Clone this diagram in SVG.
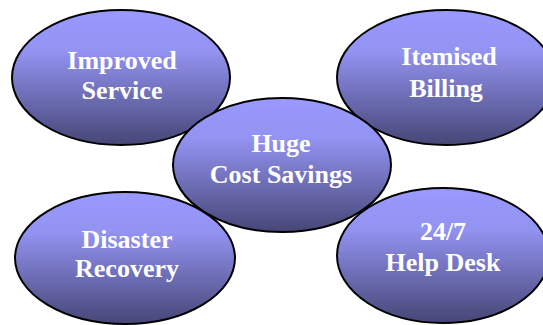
<svg xmlns="http://www.w3.org/2000/svg" width="543" height="325" viewBox="0 0 543 325">
<defs>
<linearGradient id="g" x1="0" y1="0" x2="0" y2="1">
<stop offset="0" stop-color="#9999ff"/>
<stop offset="0.3" stop-color="#9393f2"/>
<stop offset="1" stop-color="#464676"/>
</linearGradient>
<style>
.n ellipse{fill:url(#g);stroke:#000;stroke-width:2}
.n text{font-family:"Liberation Serif","Times New Roman",serif;font-weight:bold;font-size:26px;fill:#fff;text-anchor:middle}
</style>
</defs>
<rect width="543" height="325" fill="#fff"/>
<g id="connectors"></g>
<g id="improved" class="n">
<ellipse cx="121" cy="77.5" rx="109" ry="67.5"/>
<text x="122" y="69">Improved</text>
<text x="122" y="99">Service</text>
</g>
<g id="itemised" class="n">
<ellipse cx="446" cy="77.5" rx="109" ry="67.5"/>
<text x="449" y="65">Itemised</text>
<text x="446" y="97">Billing</text>
</g>
<g id="huge" class="n">
<ellipse cx="282" cy="165" rx="109" ry="67"/>
<text x="281" y="152">Huge</text>
<text x="281" y="183">Cost Savings</text>
</g>
<g id="disaster" class="n">
<ellipse cx="125" cy="258" rx="110" ry="66"/>
<text x="127" y="248">Disaster</text>
<text x="127" y="277">Recovery</text>
</g>
<g id="helpdesk" class="n">
<ellipse cx="443" cy="255.5" rx="106" ry="67.5"/>
<text x="443" y="240">24/7</text>
<text x="443" y="271">Help Desk</text>
</g>
</svg>
